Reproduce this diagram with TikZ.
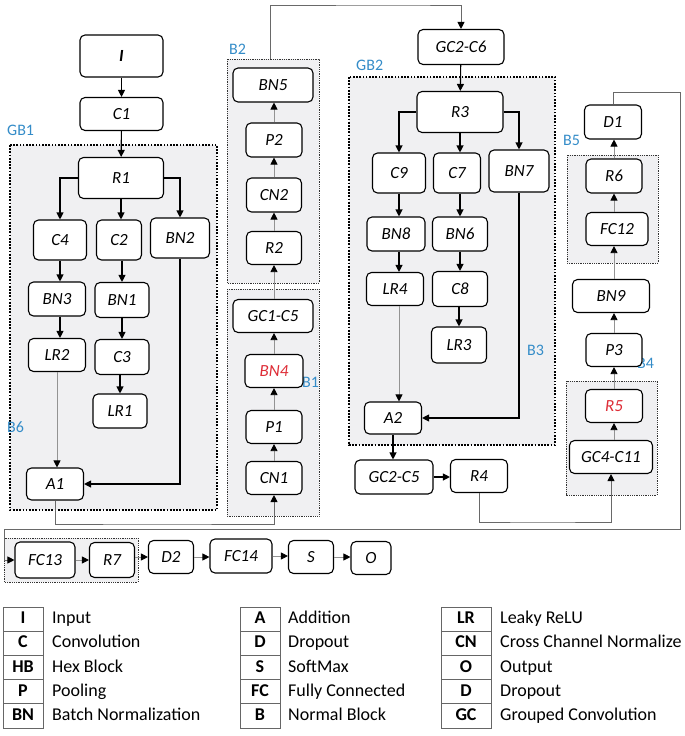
\documentclass[tikz,border=0pt]{standalone}
\usepackage{fontspec}
\setmainfont{Carlito}
\usetikzlibrary{arrows.meta}
\definecolor{lblue}{RGB}{52,140,200}
\definecolor{nred}{RGB}{222,45,55}
\definecolor{boxgray}{RGB}{240,240,242}
\definecolor{linkgray}{RGB}{105,105,105}
\tikzset{
  nd/.style={draw, line width=1.1pt, rounded corners=5pt, fill=white, inner sep=0pt,
    font=\fontsize{17}{19}\selectfont\itshape},
  sz/.style 2 args={minimum width=#1pt, minimum height=#2pt},
  arr/.style={draw=black, line width=1.1pt, -{Triangle[length=7pt,width=7pt]}},
  tarr/.style={draw=gray!85, line width=0.8pt, -{Triangle[length=7pt,width=7pt,color=black]}},
  link/.style={draw=linkgray, line width=0.9pt},
  linkarr/.style={draw=linkgray, line width=0.9pt, -{Triangle[length=7pt,width=7pt,color=black]}},
  gbox/.style={fill=boxgray, draw=black, line width=1.7pt, dash pattern=on 1.7pt off 1.5pt},
  bbox/.style={fill=boxgray, draw=black!80, line width=0.8pt, dash pattern=on 0.8pt off 1pt},
  lbl/.style={text=lblue, font=\fontsize{16}{18}\selectfont, inner sep=0pt, anchor=west},
  legcell/.style={draw=black!60, line width=0.7pt, inner sep=0pt, minimum height=24.2pt,
    text height=12.5pt, text depth=3.5pt, font=\fontsize{18}{20}\selectfont\bfseries},
  legtxt/.style={inner sep=0pt, anchor=west, text height=12.5pt, text depth=3.5pt,
    font=\fontsize{18}{20}\selectfont}
}
\begin{document}
\begin{tikzpicture}[x=1pt,y=-1pt]
\useasboundingbox (0,0) rectangle (685,736);
% group boxes
\draw[gbox] (10,145) rectangle (217,510);
\draw[gbox] (349,77) rectangle (555,445);
\draw[bbox] (227,59) rectangle (319,283);
\draw[bbox] (227,289) rectangle (319,516);
\draw[bbox] (567,155) rectangle (658,263);
\draw[bbox] (566,381) rectangle (657,495);
\draw[bbox] (4,538) rectangle (138,582);
\coordinate (b2top) at (270,59);
% labels
\node[lbl] at (7,130) {GB1};
\node[lbl] at (356,65) {GB2};
\node[lbl] at (229,49) {B2};
\node[lbl] at (302,382) {B1};
\node[lbl] at (7,427) {B6};
\node[lbl] at (527,350) {B3};
\node[lbl] at (563,140) {B5};
\node[lbl] at (637,363) {B4};
% nodes: GB1 column
\node[nd,sz={83}{42},font=\fontsize{17}{19}\selectfont\bfseries\itshape] (I) at (121.5,56) {I};
\node[nd,sz={83}{33}] (C1) at (121.5,114) {C1};
\node[nd,sz={85}{41}] (R1) at (121,178) {R1};
\node[nd,sz={53}{40}] (C4) at (60,240) {C4};
\node[nd,sz={45}{40}] (C2) at (119,240) {C2};
\node[nd,sz={59}{40}] (BN2) at (180,238) {BN2};
\node[nd,sz={57}{34}] (BN3) at (57,299) {BN3};
\node[nd,sz={54}{35}] (BN1) at (122,300) {BN1};
\node[nd,sz={57}{33}] (LR2) at (57,355) {LR2};
\node[nd,sz={54}{35}] (C3) at (122,357) {C3};
\node[nd,sz={54}{34}] (LR1) at (120,411) {LR1};
\node[nd,sz={57}{32}] (A1) at (55,484) {A1};
% B1 / B2
\node[nd,sz={80}{34}] (BN5) at (273,85) {BN5};
\node[nd,sz={56}{34}] (P2) at (274,140) {P2};
\node[nd,sz={55}{34}] (CN2) at (274,195) {CN2};
\node[nd,sz={55}{33}] (R2) at (274,248) {R2};
\node[nd,sz={80}{33}] (GC1C5) at (273,316) {GC1-C5};
\node[nd,sz={58}{33},text=nred] (BN4) at (274,371) {BN4};
\node[nd,sz={56}{33}] (P1) at (274,427) {P1};
\node[nd,sz={56}{33}] (CN1) at (274,478) {CN1};
% GB2
\node[nd,sz={86}{35}] (GC2C6) at (461,47) {GC2-C6};
\node[nd,sz={86}{41}] (R3) at (460,112) {R3};
\node[nd,sz={53}{40}] (C9) at (399,173) {C9};
\node[nd,sz={47}{40}] (C7) at (457,173) {C7};
\node[nd,sz={60}{42}] (BN7) at (519,171) {BN7};
\node[nd,sz={58}{34}] (BN8) at (396,234) {BN8};
\node[nd,sz={55}{34}] (BN6) at (460,234) {BN6};
\node[nd,sz={57}{33}] (LR4) at (395,289) {LR4};
\node[nd,sz={55}{35}] (C8) at (460,289) {C8};
\node[nd,sz={55}{36}] (LR3) at (459,345) {LR3};
\node[nd,sz={57}{32}] (A2) at (393,418) {A2};
\node[nd,sz={78}{34}] (GC2C5) at (394,477) {GC2-C5};
\node[nd,sz={57}{33}] (R4) at (479,476) {R4};
% right column
\node[nd,sz={57}{34}] (D1) at (613,122) {D1};
\node[nd,sz={56}{34}] (R6) at (614,176) {R6};
\node[nd,sz={62}{33}] (FC12) at (617,229) {FC12};
\node[nd,sz={77}{33}] (BN9) at (611,296) {BN9};
\node[nd,sz={56}{33}] (P3) at (614,350) {P3};
\node[nd,sz={57}{33},text=nred] (R5) at (614,406) {R5};
\node[nd,sz={83}{33}] (GC4C11) at (611,457) {GC4-C11};
% bottom row
\node[nd,sz={60}{36}] (FC13) at (45,560) {FC13};
\node[nd,sz={45}{35}] (R7) at (112,560) {R7};
\node[nd,sz={45}{33}] (D2) at (171,557) {D2};
\node[nd,sz={62}{34}] (FC14) at (241,556) {FC14};
\node[nd,sz={45}{33}] (S) at (311,557) {S};
\node[nd,sz={40}{33}] (O) at (371,558) {O};
% connectors GB1
\draw[arr] (I) -- (C1);
\draw[arr] (C1) -- (R1);
\draw[arr] (R1.west) -| (C4.north);
\draw[arr] (R1.east) -| (BN2.north);
\draw[arr] (R1.south) -- (R1.south |- C2.north);
\draw[arr] (C4.south) -- (C4.south |- BN3.north);
\draw[arr] (C4.south |- BN3.south) -- (C4.south |- LR2.north);
\draw[arr] (C2.south -| BN1.north) -- (BN1.north);
\draw[arr] (BN1.south) -- (C3.north);
\draw[arr] (C3.south -| LR1.north) -- (LR1.north);
\draw[tarr] (LR2.south) -- (LR2.south |- A1.north);
\draw[arr] (BN2.south) |- (A1.east);
\coordinate (j1) at (150,524);
\draw[linkarr] (A1.south) |- (j1) -| (CN1.south);
% B1 / B2 internal
\draw[tarr] (CN1.north) -- (P1.south);
\draw[tarr] (P1.north) -- (BN4.south);
\draw[tarr] (BN4.north) -- (BN4.north |- GC1C5.south);
\draw[tarr] (BN4.north |- GC1C5.north) -- (R2.south);
\draw[tarr] (R2.north) -- (CN2.south);
\draw[tarr] (CN2.north) -- (P2.south);
\draw[tarr] (P2.north) -- (P2.north |- BN5.south);
\coordinate (j2) at (400,5);
\draw[linkarr] (b2top) |- (j2) -| (GC2C6.north);
% GB2
\draw[arr] (GC2C6) -- (R3);
\draw[arr] (R3.west) -| (C9.north);
\draw[arr] (R3.east) -| (BN7.north);
\draw[arr] (R3.south) -- (R3.south |- C7.north);
\draw[arr] (C9.south) -- (C9.south |- BN8.north);
\draw[arr] (C9.south |- BN8.south) -- (C9.south |- LR4.north);
\draw[tarr] (C9.south |- LR4.south) -- (C9.south |- A2.north);
\draw[arr] (BN6.north |- C7.south) -- (BN6.north);
\draw[arr] (BN6.south) -- (C8.north);
\draw[arr] (C8.south -| LR3.north) -- (LR3.north);
\draw[arr] (BN7.south) |- (A2.east);
\draw[arr] (A2.south) -- (A2.south |- GC2C5.north);
\draw[arr] (GC2C5.east) -- (GC2C5.east -| R4.west);
\coordinate (j3) at (540,522);
\draw[linkarr] (R4.south) |- (j3) -| (GC4C11.south);
% right column
\draw[tarr] (GC4C11.north -| R5.south) -- (R5.south);
\draw[tarr] (R5.north) -- (P3.south);
\draw[tarr] (P3.north) -- (P3.north |- BN9.south);
\draw[tarr] (P3.north |- BN9.north) -- (P3.north |- FC12.south);
\draw[tarr] (FC12.north -| R6.south) -- (R6.south);
\draw[tarr] (R6.north) -- (R6.north |- D1.south);
\coordinate (j4) at (680,92);
\coordinate (j5) at (4,529);
\draw[linkarr] (D1.north) |- (j4) |- (j5) |- (FC13.west);
% bottom row
\draw[tarr] (FC13.east) -- (FC13.east -| R7.west);
\draw[tarr] (R7.east |- D2.west) -- (D2.west);
\draw[tarr] (D2.east) -- (D2.east -| FC14.west);
\draw[tarr] (FC14.east) -- (FC14.east -| S.west);
\draw[tarr] (S.east) -- (S.east -| O.west);
% legend
\foreach \a/\t [count=\i from 0] in {I/Input, C/Convolution, HB/Hex Block, P/Pooling, BN/Batch Normalization}{
  \node[legcell, minimum width=40pt] (la\i) at (23,619.1+24.2*\i) {\a};
  \node[legtxt] (lt\i) at (52,619.1+24.2*\i) {\t};
}
\foreach \a/\t [count=\i from 0] in {A/Addition, D/Dropout, S/SoftMax, FC/Fully Connected, B/Normal Block}{
  \node[legcell, minimum width=40pt] (ma\i) at (260,619.1+24.2*\i) {\a};
  \node[legtxt] (mt\i) at (288,619.1+24.2*\i) {\t};
}
\foreach \a/\t [count=\i from 0] in {LR/Leaky ReLU, CN/Cross Channel Normalize, O/Output, D/Dropout, GC/Grouped Convolution}{
  \node[legcell, minimum width=50pt] (ra\i) at (466,619.1+24.2*\i) {\a};
  \node[legtxt] (rt\i) at (500,619.1+24.2*\i) {\t};
}
\end{tikzpicture}
\end{document}
